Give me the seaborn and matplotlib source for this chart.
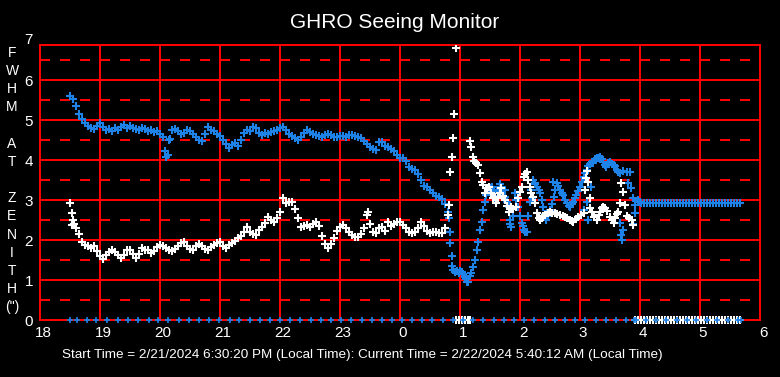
import numpy as np
import pandas as pd
import matplotlib
matplotlib.use('Agg')
import matplotlib.pyplot as plt
import matplotlib.transforms as mtrans
import seaborn as sns

# ------------------------------------------------------------------
# DATA (hours since midnight of 2/21, 24+ = next morning)
# ------------------------------------------------------------------
dense_start = 18.50
dense_step = 0.05

# FWHM (blue) sampled every 3 min, 18:30 -> 00:48
blue_dense = [
    5.60, 5.52, 5.35, 5.15, 5.02, 4.93, 4.85, 4.80, 4.78, 4.85,
    4.92, 4.82, 4.75, 4.78, 4.72, 4.80, 4.76, 4.82, 4.87, 4.80, 4.86, 4.80, 4.78, 4.74, 4.80, 4.78, 4.72, 4.75, 4.70, 4.72,
    4.66, 4.58, 4.08, 4.50, 4.75, 4.78, 4.72, 4.65, 4.68, 4.75, 4.72, 4.65, 4.58, 4.50, 4.48, 4.65, 4.83, 4.75, 4.72, 4.66,
    4.60, 4.50, 4.40, 4.30, 4.38, 4.42, 4.35, 4.50, 4.68, 4.75, 4.72, 4.82, 4.80, 4.68, 4.62, 4.68, 4.66, 4.70, 4.72, 4.75,
    4.79, 4.83, 4.75, 4.65, 4.60, 4.55, 4.49, 4.58, 4.68, 4.74, 4.70, 4.65, 4.62, 4.60, 4.58, 4.62, 4.66, 4.62, 4.57, 4.57,
    4.60, 4.60, 4.58, 4.62, 4.63, 4.60, 4.58, 4.55, 4.48, 4.40, 4.32, 4.28, 4.25, 4.45, 4.45, 4.35, 4.32, 4.28, 4.22, 4.12,
    4.06, 4.04, 3.98, 3.82, 3.78, 3.76, 3.65, 3.50, 3.36, 3.32, 3.25, 3.18, 3.10, 3.08, 3.02, 2.90, 2.70,
]

# white series sampled every 3 min, 18:30 -> 00:45
white_dense = [
    2.93, 2.50, 2.30, 2.15, 1.95, 1.88, 1.86, 1.80, 1.85, 1.72,
    1.60, 1.52, 1.62, 1.70, 1.75, 1.70, 1.62, 1.55, 1.62, 1.76, 1.74, 1.65, 1.55, 1.66, 1.79, 1.76, 1.74, 1.68, 1.72, 1.82,
    1.87, 1.84, 1.80, 1.74, 1.72, 1.78, 1.84, 1.92, 1.94, 1.86, 1.78, 1.75, 1.84, 1.90, 1.86, 1.78, 1.75, 1.82, 1.87, 1.92,
    1.96, 1.86, 1.80, 1.88, 1.92, 1.98, 2.05, 2.10, 2.20, 2.33, 2.20, 2.15, 2.12, 2.25, 2.32, 2.42, 2.58, 2.50, 2.46, 2.55,
    2.70, 3.05, 2.92, 2.95, 2.96, 2.78, 2.55, 2.32, 2.36, 2.38, 2.33, 2.40, 2.46, 2.35, 2.10, 1.90, 1.80, 1.90, 2.05, 2.22,
    2.32, 2.38, 2.30, 2.21, 2.12, 2.08, 2.08, 2.15, 2.30, 2.62, 2.40, 2.20, 2.17, 2.30, 2.33, 2.22, 2.45, 2.36, 2.40, 2.46,
    2.44, 2.38, 2.30, 2.21, 2.17, 2.20, 2.30, 2.45, 2.35, 2.22, 2.17, 2.20, 2.21, 2.18, 2.17, 2.30,
]

# irregular readings (hour, FWHM)
blue_extra = [
    (20.08, 4.22), (20.13, 4.12), (20.17, 4.52),
    (24.82, 2.55), (24.83, 2.21), (24.84, 1.92), (24.86, 1.60), (24.87, 1.35), (24.89, 1.25),
    (24.92, 1.20), (24.95, 1.22), (24.98, 1.18), (25.00, 1.22), (25.03, 1.20), (25.05, 1.15),
    (25.08, 1.08), (25.10, 1.02), (25.12, 0.96), (25.14, 0.95), (25.17, 1.10), (25.19, 1.17),
    (25.22, 1.33), (25.25, 1.50), (25.28, 1.75), (25.30, 1.96), (25.33, 2.25), (25.36, 2.46),
    (25.39, 2.75), (25.42, 2.96), (25.44, 3.12), (25.47, 3.25), (25.50, 3.30), (25.53, 3.33),
    (25.57, 3.20), (25.61, 3.25), (25.64, 3.10), (25.67, 3.33), (25.70, 3.20), (25.72, 3.25),
    (25.75, 3.08), (25.78, 2.95), (25.81, 2.83), (25.83, 2.50), (25.85, 2.33), (25.88, 2.60),
    (25.92, 3.17), (25.94, 3.00), (25.97, 2.83), (26.00, 2.60), (26.03, 2.42), (26.06, 2.25),
    (26.09, 2.20), (26.11, 2.21), (26.14, 2.60), (26.17, 2.96), (26.19, 3.25), (26.22, 3.50),
    (26.25, 3.40), (26.28, 3.33), (26.31, 3.25), (26.33, 3.17), (26.36, 3.00), (26.39, 2.83),
    (26.42, 2.65), (26.44, 2.50), (26.47, 2.60), (26.50, 2.75), (26.53, 2.90), (26.56, 3.08),
    (26.58, 3.25), (26.61, 3.42), (26.64, 3.35), (26.67, 3.25), (26.70, 3.17), (26.72, 3.12),
    (26.75, 3.00), (26.78, 2.92), (26.81, 2.85), (26.83, 2.83), (26.86, 2.90), (26.89, 2.96),
    (26.92, 3.05), (26.94, 3.12), (26.97, 3.22), (27.00, 3.33), (27.03, 3.45), (27.06, 3.58),
    (27.08, 3.68), (27.11, 3.75), (27.14, 3.85), (27.17, 3.90), (27.20, 3.95), (27.22, 3.92),
    (27.25, 4.02), (27.28, 4.04), (27.31, 4.06), (27.33, 4.08), (27.36, 4.02), (27.39, 3.96),
    (27.42, 3.88), (27.44, 3.83), (27.47, 3.92), (27.50, 3.94), (27.53, 3.90), (27.56, 3.88),
    (27.58, 3.85), (27.61, 3.75), (27.64, 3.70), (27.67, 3.68), (27.72, 3.72), (27.78, 3.70),
    (27.83, 3.71), (27.80, 3.42), (27.85, 3.29), (27.88, 3.04), (27.92, 2.88), (27.97, 3.00),
    (28.00, 2.96),
    (27.67, 2.42), (27.69, 2.12), (27.70, 2.00), (27.72, 2.25), (27.89, 2.40), (27.92, 2.67),
    (27.06, 2.75), (27.11, 2.96), (27.14, 2.50), (27.19, 3.33), (25.83, 2.40), (25.75, 3.25),
    (26.25, 3.42), (25.58, 3.05), (25.66, 3.40), (26.05, 2.35), (26.55, 3.45), (26.20, 3.05),
]

white_extra = [
    (18.54, 2.67), (18.53, 2.38), (18.57, 2.40), (23.47, 2.71),
    (24.80, 2.63), (24.82, 2.88), (24.83, 3.71), (24.86, 4.08), (24.88, 4.54), (24.90, 5.14),
    (24.93, 6.80),
    (25.17, 4.47), (25.19, 4.32), (25.21, 4.08), (25.24, 3.98), (25.27, 3.93), (25.30, 3.88),
    (25.33, 3.67), (25.36, 3.46), (25.38, 3.38), (25.42, 3.17), (25.45, 3.30), (25.48, 3.33),
    (25.51, 3.17), (25.55, 3.05), (25.58, 3.08), (25.60, 2.92), (25.63, 3.05), (25.66, 3.17),
    (25.69, 3.29), (25.72, 3.10), (25.75, 3.00), (25.78, 2.85), (25.81, 2.71), (25.85, 2.83),
    (25.89, 2.78), (25.94, 2.83), (25.97, 3.04), (26.00, 3.20), (26.03, 3.33), (26.06, 3.58),
    (26.09, 3.65), (26.11, 3.71), (26.14, 3.50), (26.17, 3.33), (26.19, 3.17), (26.22, 3.08),
    (26.25, 2.92), (26.28, 2.67), (26.31, 2.55), (26.33, 2.50), (26.36, 2.55), (26.39, 2.60),
    (26.42, 2.62), (26.46, 2.68), (26.50, 2.71), (26.54, 2.68), (26.58, 2.67), (26.62, 2.64),
    (26.67, 2.62), (26.71, 2.60), (26.75, 2.58), (26.79, 2.54), (26.83, 2.50), (26.86, 2.48),
    (26.89, 2.46), (26.93, 2.52), (26.97, 2.58), (27.01, 2.62), (27.06, 2.67), (27.08, 3.25),
    (27.10, 3.54), (27.12, 3.72), (27.14, 3.46), (27.16, 3.04), (27.17, 2.79), (27.20, 2.71),
    (27.24, 2.58), (27.28, 2.50), (27.31, 2.62), (27.33, 2.71), (27.36, 2.79), (27.39, 2.83),
    (27.42, 2.80), (27.45, 2.72), (27.50, 2.58), (27.53, 2.50), (27.56, 2.42), (27.59, 2.55),
    (27.62, 2.65), (27.64, 2.71), (27.67, 2.92), (27.69, 3.42), (27.71, 3.21), (27.75, 2.88),
    (27.78, 2.60), (27.82, 2.54), (27.86, 2.50), (27.89, 2.38),
]

# flat blue readings after 04:00
blue_flat_level = 2.93
blue_flat_t = [28.02, 28.07, 28.12, 28.17, 28.22, 28.27, 28.32, 28.37, 28.42, 28.47, 28.52, 28.57,
               28.62, 28.67, 28.72, 28.77, 28.82, 28.87, 28.92, 28.97, 29.02, 29.07, 29.12, 29.17,
               29.22, 29.27, 29.32, 29.37, 29.42, 29.47, 29.52, 29.57, 29.62, 29.67]

# zero readings along the bottom
blue_zero_t = [18.50, 18.61, 18.78, 18.94, 19.12, 19.30, 19.47, 19.64, 19.81, 19.97, 20.14, 20.31,
               20.48, 20.65, 20.82, 20.99, 21.16, 21.32, 21.50, 21.67, 21.84, 22.00, 22.17, 22.34,
               22.51, 22.68, 22.85, 23.02, 23.19, 23.36, 23.53, 23.70, 23.86, 24.03, 24.20, 24.37,
               24.54, 24.71, 24.88, 25.05, 25.22, 25.39, 25.56, 25.73, 25.90, 26.07, 26.24, 26.41,
               26.58, 26.75, 26.92, 27.09, 27.26, 27.43, 27.60, 27.77, 27.90, 27.94, 28.10, 28.27,
               28.44, 28.61, 28.78, 28.94, 29.11, 29.28, 29.47, 29.64, 29.69]
white_zero_t = [24.93, 24.98, 25.03, 25.08, 25.13, 25.17,
                27.92, 27.97, 28.02, 28.07, 28.12, 28.17, 28.22, 28.27, 28.32, 28.37, 28.42, 28.47,
                28.52, 28.57, 28.62, 28.67, 28.72, 28.77, 28.82, 28.87, 28.92, 28.97, 29.02, 29.07,
                29.12, 29.17, 29.22, 29.27, 29.32, 29.37, 29.42, 29.47, 29.52, 29.57, 29.62, 29.67]

x_ticks = list(range(18, 31))
x_tick_labels = ['18', '19', '20', '21', '22', '23', '0', '1', '2', '3', '4', '5', '6']
y_ticks = [0, 1, 2, 3, 4, 5, 6]

title = 'GHRO Seeing Monitor'
y_label = 'F\nW\nH\nM\n\nA\nT\n\nZ\nE\nN\nI\nT\nH\n(")'
footer = ('Start Time = 2/21/2024 6:30:20 PM (Local Time): '
          'Current Time = 2/22/2024 5:40:12 AM (Local Time)')

# ------------------------------------------------------------------
# BUILD TABLES
# ------------------------------------------------------------------
blue_df = pd.concat([
    pd.DataFrame({'hour': dense_start + dense_step * np.arange(len(blue_dense)), 'fwhm': blue_dense}),
    pd.DataFrame(blue_extra, columns=['hour', 'fwhm']),
    pd.DataFrame({'hour': blue_flat_t, 'fwhm': blue_flat_level}),
], ignore_index=True)

white_df = pd.concat([
    pd.DataFrame({'hour': dense_start + dense_step * np.arange(len(white_dense)), 'fwhm': white_dense}),
    pd.DataFrame(white_extra, columns=['hour', 'fwhm']),
], ignore_index=True)

blue_zero_df = pd.DataFrame({'hour': blue_zero_t, 'fwhm': 0.0})
white_zero_df = pd.DataFrame({'hour': white_zero_t, 'fwhm': 0.0})

# ------------------------------------------------------------------
# PLOT
# ------------------------------------------------------------------
sns.set_style('dark')
plt.rcParams['font.family'] = ['Liberation Sans', 'DejaVu Sans']
plt.rcParams['lines.scale_dashes'] = False

BLUE = '#1e82e6'
RED = '#ff0000'
LW = 1.44   # 2 px at 100 dpi

fig = plt.figure(figsize=(7.8, 3.77), dpi=100, facecolor='black')
ax = fig.add_axes([40 / 780, 57 / 377, 720 / 780, 275 / 377])
ax.set_facecolor('black')
ax.set_xlim(18, 30)
ax.set_ylim(0, 6.875)

# red grid: solid on integers, dashed on half steps
for h in range(19, 30):
    ax.axvline(h, color=RED, lw=LW, zorder=1, antialiased=False)
for v in range(1, 7):
    ax.axhline(v, color=RED, lw=LW, zorder=1, antialiased=False)
for v in np.arange(0.5, 7, 1.0):
    ax.axhline(v, color=RED, lw=LW, dashes=(6.5, 7.9), zorder=1, antialiased=False)
for sp in ax.spines.values():
    sp.set_color(RED)
    sp.set_linewidth(LW)
    sp.set_antialiased(False)
ax.grid(False)

sns.scatterplot(ax=ax, data=blue_df, x='hour', y='fwhm', marker='+', color=BLUE,
                s=26, linewidth=1.5, legend=False, zorder=3)
sns.scatterplot(ax=ax, data=white_df, x='hour', y='fwhm', marker='+', color='white',
                s=26, linewidth=1.5, legend=False, zorder=4)
sns.scatterplot(ax=ax, data=white_zero_df, x='hour', y='fwhm', marker='+', color='white',
                s=26, linewidth=1.5, legend=False, zorder=4, clip_on=False)
sns.scatterplot(ax=ax, data=blue_zero_df, x='hour', y='fwhm', marker='+', color=BLUE,
                s=20, linewidth=1.2, legend=False, zorder=5, clip_on=False)

ax.set_xticks(x_ticks)
ax.set_xticklabels(x_tick_labels)
ax.set_yticks(y_ticks)
ax.set_yticklabels([str(t) for t in y_ticks])
ax.tick_params(axis='both', colors='white', labelsize=11, length=0)
ax.tick_params(axis='y', pad=5)
ax.tick_params(axis='x', pad=4)
# x labels sit a little right of their grid line in the reference
shift = mtrans.ScaledTranslation(3 / 100, 0, fig.dpi_scale_trans)
for lab in ax.get_xticklabels():
    lab.set_transform(lab.get_transform() + shift)
ax.text(18 - 7 / 60, 7, '7', color='white', fontsize=11, ha='right', va='center', clip_on=False)
ax.set_xlabel('')
ax.set_ylabel('')

fig.text(395 / 780, 1 - 22 / 377, title, color='white', fontsize=15, ha='center', va='center')
fig.text(12 / 780, 1 - 180 / 377, y_label, color='white', fontsize=10, ha='center', va='center',
         linespacing=1.38)
fig.text(362 / 780, 1 - 355 / 377, footer, color='white', fontsize=9.7, ha='center', va='center')

plt.savefig('out.png', dpi=100, facecolor='black')
plt.close(fig)
